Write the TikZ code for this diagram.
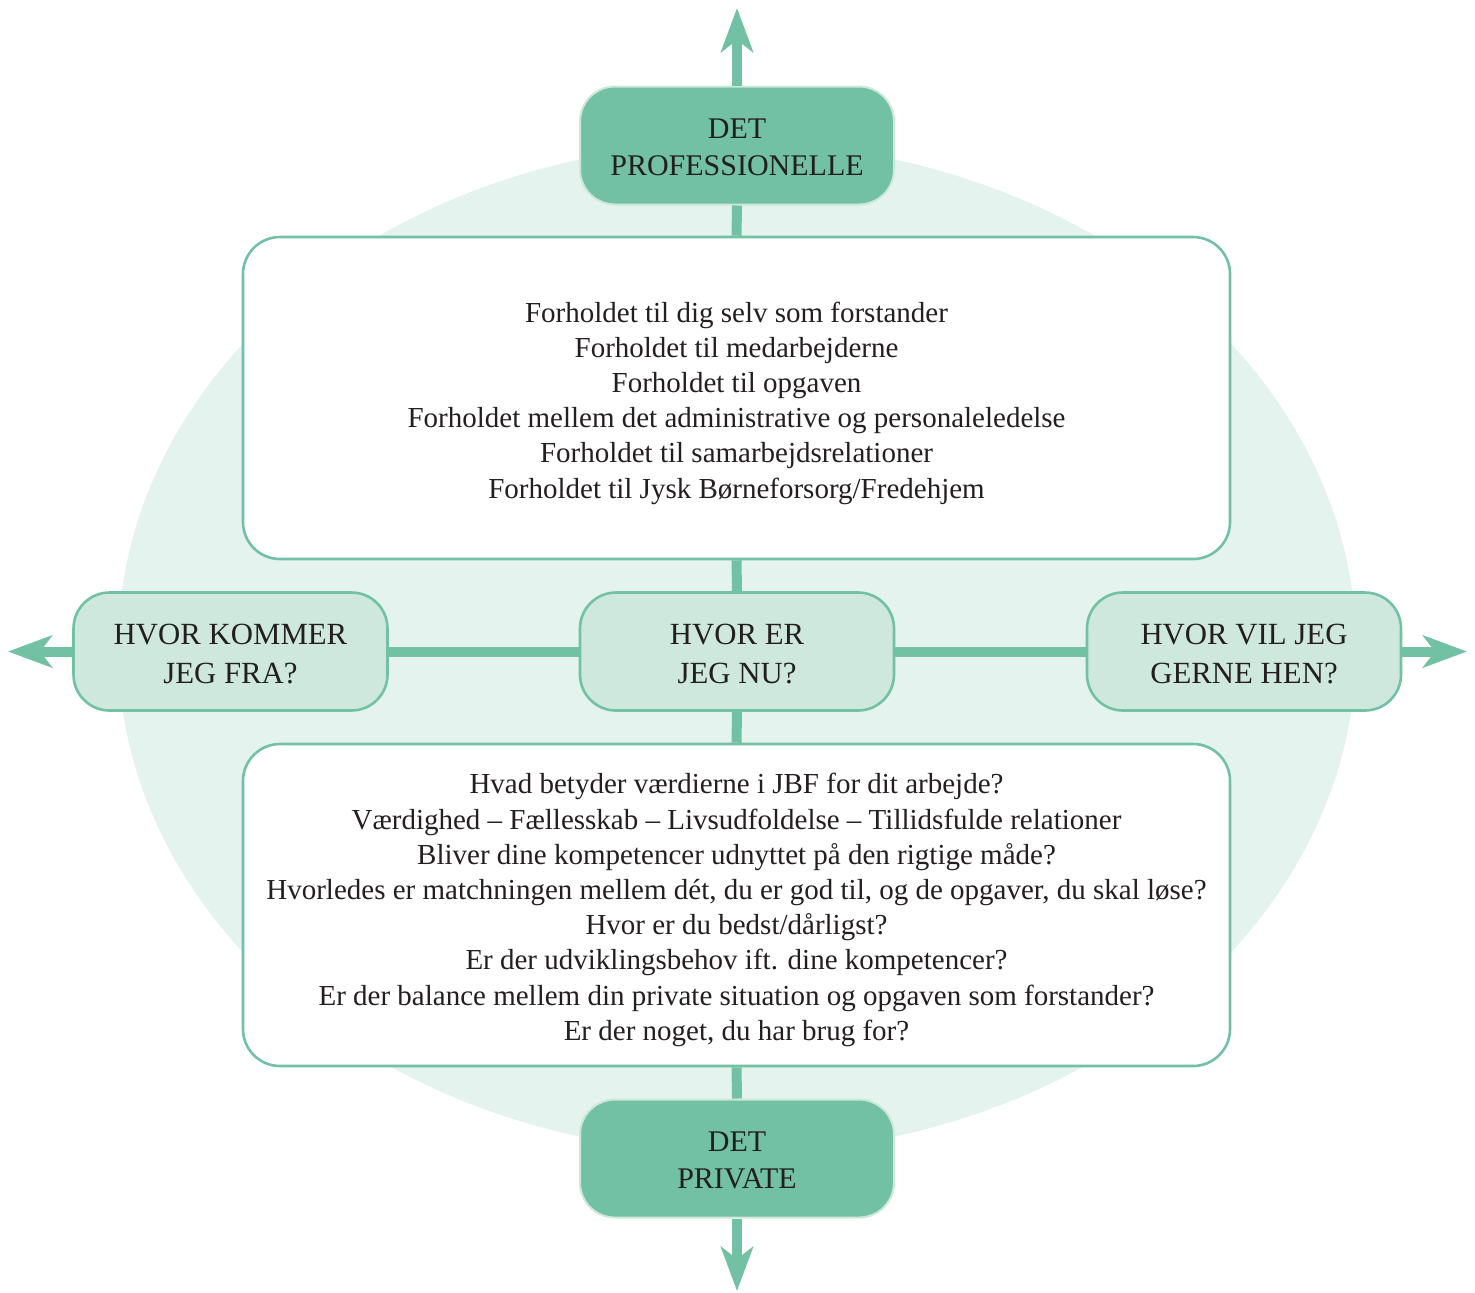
\documentclass[tikz,border=0pt]{standalone}
\usepackage{fontspec}
\setmainfont{Liberation Serif}
\usetikzlibrary{arrows.meta}
\definecolor{mgreen}{RGB}{114,193,165}
\definecolor{lfill}{RGB}{207,232,222}
\definecolor{efill}{RGB}{228,243,237}
\definecolor{tborder}{RGB}{205,232,219}
\definecolor{tcol}{RGB}{35,31,32}
\newcommand\mytab[2]{\raisebox{#1}[\height][\depth]{\begin{tabular}{@{}c@{}}#2\end{tabular}}}
\tikzset{
  titlebox/.style={rectangle, rounded corners=17.5pt, fill=mgreen, draw=tborder, line width=1pt,
    minimum width=157pt, minimum height=59pt, text=tcol,
    font=\fontsize{15}{18.5}\selectfont, inner sep=0pt},
  qbox/.style={rectangle, rounded corners=18pt, fill=lfill, draw=mgreen, line width=1.3pt,
    minimum width=157pt, minimum height=59pt, text=tcol,
    font=\fontsize{15.4}{19.5}\selectfont, inner sep=0pt},
  bigbox/.style={rectangle, rounded corners=18.5pt, fill=white, draw=mgreen, line width=1.3pt,
    minimum width=493.5pt, minimum height=161pt, text=tcol,
    font=\fontsize{14.5}{17.6}\selectfont, inner sep=0pt},
  conn/.style={mgreen, line width=5pt},
  arr/.style={mgreen, line width=5pt, -{Stealth[length=22pt, width=16pt, inset=6pt]}},
}
\begin{document}
\begin{tikzpicture}[x=0.5pt,y=-0.5pt]
\useasboundingbox (0,0) rectangle (1475,1292);
\fill[efill] (737,648) ellipse [x radius=619, y radius=505];

\node[titlebox] (prof) at (737,145.5) {\mytab{-2pt}{DET\\PROFESSIONELLE}};
\node[bigbox] (top) at (736.5,398) {\mytab{-2.5pt}{Forholdet til dig selv som forstander\\
Forholdet til medarbejderne\\
Forholdet til opgaven\\
Forholdet mellem det administrative og personaleledelse\\
Forholdet til samarbejdsrelationer\\
Forholdet til Jysk Børneforsorg/Fredehjem}};
\node[qbox] (left) at (230.5,651.5) {\mytab{-2.5pt}{HVOR KOMMER\\JEG FRA?}};
\node[qbox] (mid) at (737,651.5) {\mytab{-2.5pt}{HVOR ER\\JEG NU?}};
\node[qbox] (right) at (1244,651.5) {\mytab{-2.5pt}{HVOR VIL JEG\\GERNE HEN?}};
\node[bigbox] (bot) at (736.5,905) {\mytab{-2.5pt}{Hvad betyder værdierne i JBF for dit arbejde?\\
Værdighed – Fællesskab – Livsudfoldelse – Tillidsfulde relationer\\
Bliver dine kompetencer udnyttet på den rigtige måde?\\
Hvorledes er matchningen mellem dét, du er god til, og de opgaver, du skal løse?\\
Hvor er du bedst/dårligst?\\
Er der udviklingsbehov ift. dine kompetencer?\\
Er der balance mellem din private situation og opgaven som forstander?\\
Er der noget, du har brug for?}};
\node[titlebox] (priv) at (737,1158.5) {\mytab{-2pt}{DET\\PRIVATE}};

\coordinate (ttip) at (737,8);
\coordinate (btip) at (737,1291);
\coordinate (ltip) at (8,651.5);
\coordinate (rtip) at (1467,651.5);

\draw[conn] (prof.south) -- (top.north);
\draw[conn] (top.south) -- (mid.north);
\draw[conn] (mid.south) -- (bot.north);
\draw[conn] (bot.south) -- (priv.north);
\draw[conn] (left.east) -- (mid.west);
\draw[conn] (mid.east) -- (right.west);
\draw[arr] (prof.north) -- (ttip);
\draw[arr] (priv.south) -- (btip);
\draw[arr] (left.west) -- (ltip);
\draw[arr] (right.east) -- (rtip);
\end{tikzpicture}
\end{document}
